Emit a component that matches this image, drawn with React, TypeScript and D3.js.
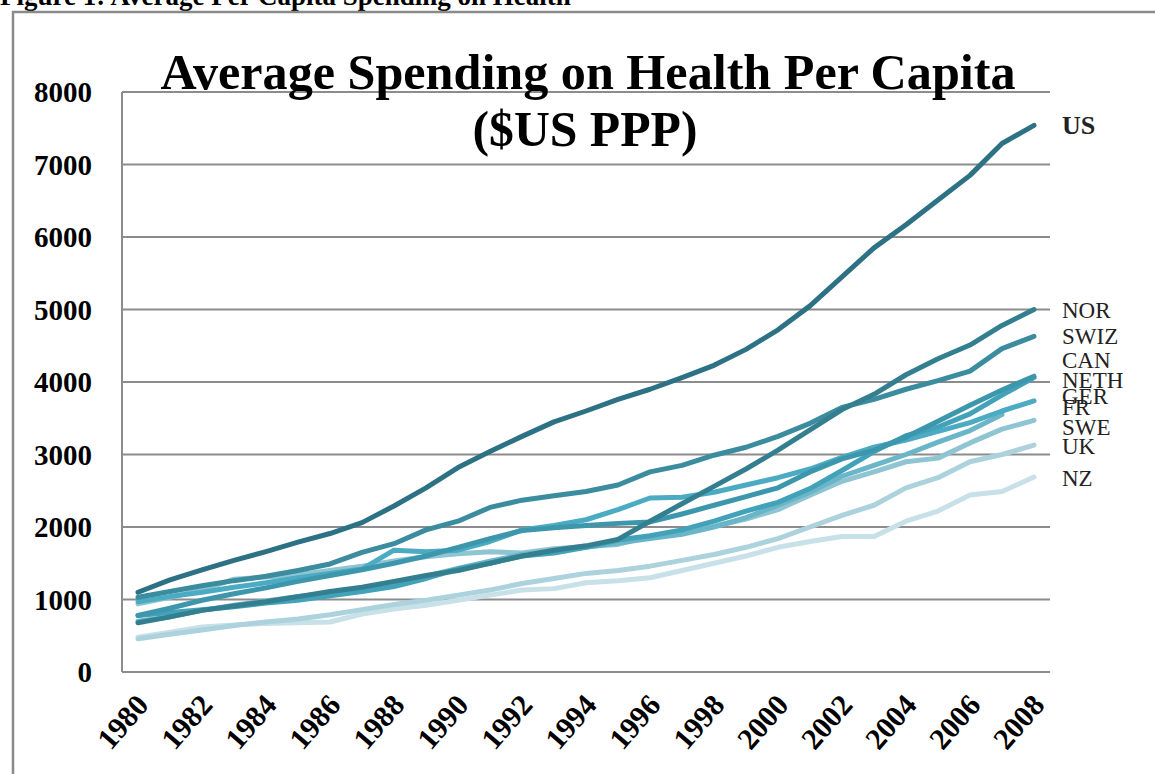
import React from 'react';
import * as d3 from 'd3';

// years on the category axis
const years = d3.range(1980, 2009);
const tickYears = years.filter(y => y % 2 === 0);
const yTicks = [0, 1000, 2000, 3000, 4000, 5000, 6000, 7000, 8000];

// per-capita spending, $US PPP
const us = [1100, 1270, 1410, 1540, 1660, 1790, 1910, 2060, 2290, 2540, 2820, 3040, 3250, 3450, 3600, 3760, 3900, 4060, 4230, 4450, 4720, 5050, 5450, 5850, 6170, 6510, 6850, 7290, 7540];
const nor = [680, 760, 850, 910, 970, 1040, 1110, 1170, 1250, 1330, 1400, 1500, 1600, 1680, 1740, 1830, 2080, 2320, 2560, 2800, 3060, 3340, 3620, 3830, 4100, 4320, 4510, 4780, 5000];
const swiz = [1030, 1110, 1190, 1260, 1320, 1400, 1490, 1650, 1770, 1960, 2080, 2270, 2370, 2430, 2490, 2580, 2760, 2850, 2990, 3100, 3250, 3430, 3650, 3760, 3900, 4020, 4150, 4460, 4630];
const can = [780, 880, 990, 1080, 1160, 1250, 1330, 1410, 1500, 1600, 1720, 1840, 1950, 1990, 2020, 2050, 2070, 2180, 2300, 2420, 2540, 2760, 2940, 3060, 3240, 3460, 3680, 3890, 4080];
const neth = [780, 820, 860, 900, 950, 990, 1050, 1110, 1180, 1290, 1420, 1500, 1600, 1640, 1720, 1820, 1880, 1960, 2080, 2220, 2340, 2530, 2780, 3040, 3260, 3380, 3560, 3820, 4060];
const ger = [970, 1040, 1100, 1170, 1230, 1300, 1360, 1420, 1680, 1660, 1680, 1800, 1960, 2020, 2100, 2240, 2400, 2410, 2480, 2580, 2680, 2800, 2960, 3100, 3200, 3320, 3440, 3600, 3740];
const fr = [700, 760, 850, 920, 980, 1040, 1090, 1140, 1210, 1320, 1430, 1530, 1620, 1670, 1720, 1780, 1840, 1900, 2000, 2130, 2300, 2480, 2700, 2850, 3000, 3170, 3330, 3550];
const swe = [940, 1030, 1130, 1280, 1310, 1340, 1400, 1460, 1530, 1590, 1630, 1660, 1640, 1700, 1730, 1760, 1870, 1920, 2010, 2110, 2240, 2440, 2630, 2760, 2900, 2950, 3160, 3350, 3470];
const uk = [460, 520, 580, 640, 690, 730, 790, 860, 930, 990, 1060, 1130, 1220, 1290, 1360, 1400, 1460, 1540, 1620, 1720, 1840, 2000, 2160, 2300, 2540, 2680, 2900, 3000, 3130];
const nz = [480, 550, 620, 650, 670, 680, 690, 800, 870, 920, 990, 1060, 1130, 1150, 1230, 1260, 1300, 1400, 1500, 1600, 1720, 1800, 1870, 1870, 2080, 2220, 2440, 2490, 2690];

const names = ['US', 'NOR', 'SWIZ', 'CAN', 'NETH', 'GER', 'FR', 'SWE', 'UK', 'NZ'];
const values = [us, nor, swiz, can, neth, ger, fr, swe, uk, nz];
const colors = ['#2c7184', '#337f90', '#3a8c9e', '#3d97ac', '#41a2b9', '#4babc3', '#6bb5c8', '#8fc4d3', '#acd2dd', '#c8e0e7'];
// where the end labels sit, in data units
const labelValues = [7540, 5000, 4640, 4300, 4030, 3810, 3660, 3380, 3120, 2680];

const W = 1155, H = 774;
const plot = { left: 122, right: 1050, top: 92, bottom: 672 };

export default function App() {
  const x = d3.scaleBand<number>().domain(years).range([plot.left, plot.right]);
  const xc = (yr: number) => (x(yr) as number) + x.bandwidth() / 2;
  const y = d3.scaleLinear().domain([0, 8000]).range([plot.bottom, plot.top]);

  const line = d3.line<number>()
    .x((_, i) => xc(years[i]))
    .y(d => y(d));

  return (
    <svg width={W} height={H} style={{ position: 'absolute', left: 0, top: 0, background: '#fff' }}>
      <text x={0} y={5} fontFamily="Liberation Serif, serif" fontWeight="bold" fontSize={27}>
        Figure 1: Average Per Capita Spending on Health
      </text>
      {/* frame */}
      <path d={`M13,${H + 5}V12H${W + 5}`} fill="none" stroke="#8a8a8a" strokeWidth={2.5} />

      {/* gridlines */}
      <g stroke="#8c8c8c" strokeWidth={2}>
        {yTicks.slice(1).map(t => (
          <line key={t} x1={plot.left} x2={plot.right} y1={y(t)} y2={y(t)} />
        ))}
        <line x1={plot.left} x2={plot.left} y1={plot.top} y2={plot.bottom} />
        <line x1={plot.left} x2={plot.right} y1={plot.bottom} y2={plot.bottom} />
      </g>

      {/* y labels */}
      <g fontFamily="Liberation Serif, serif" fontWeight="bold" fontSize={29} textAnchor="end">
        {yTicks.map(t => (
          <text key={t} x={92} y={y(t)} dy="0.36em">{t}</text>
        ))}
      </g>

      {/* x labels */}
      <g fontFamily="Liberation Serif, serif" fontWeight="bold" fontSize={30} textAnchor="end">
        {tickYears.map(t => (
          <text key={t} transform={`translate(${xc(t) + 12},${plot.bottom + 34}) rotate(-49)`}>{t}</text>
        ))}
      </g>

      {/* title */}
      <g fontFamily="Liberation Serif, serif" fontWeight="bold" textAnchor="middle">
        <text x={588} y={89} fontSize={50} textLength={855} lengthAdjust="spacingAndGlyphs">
          Average Spending on Health Per Capita
        </text>
        <text x={585} y={146} fontSize={50} textLength={225} lengthAdjust="spacingAndGlyphs">($US PPP)</text>
      </g>

      {/* series, lightest first so the dark ones sit on top */}
      <g fill="none" strokeWidth={5} strokeLinejoin="round" strokeLinecap="round">
        {values.map((v, i) => i).reverse().map(i => (
          <path key={names[i]} d={line(values[i]) || ''} stroke={colors[i]} />
        ))}
      </g>

      {/* end labels */}
      <g fontFamily="Liberation Serif, serif" fill="#222">
        {names.map((n, i) => (
          <text key={n} x={1062} y={y(labelValues[i])} dy="0.35em"
            fontWeight={i === 0 ? 'bold' : 'normal'} fontSize={i === 0 ? 26 : 23}>{n}</text>
        ))}
      </g>
    </svg>
  );
}
